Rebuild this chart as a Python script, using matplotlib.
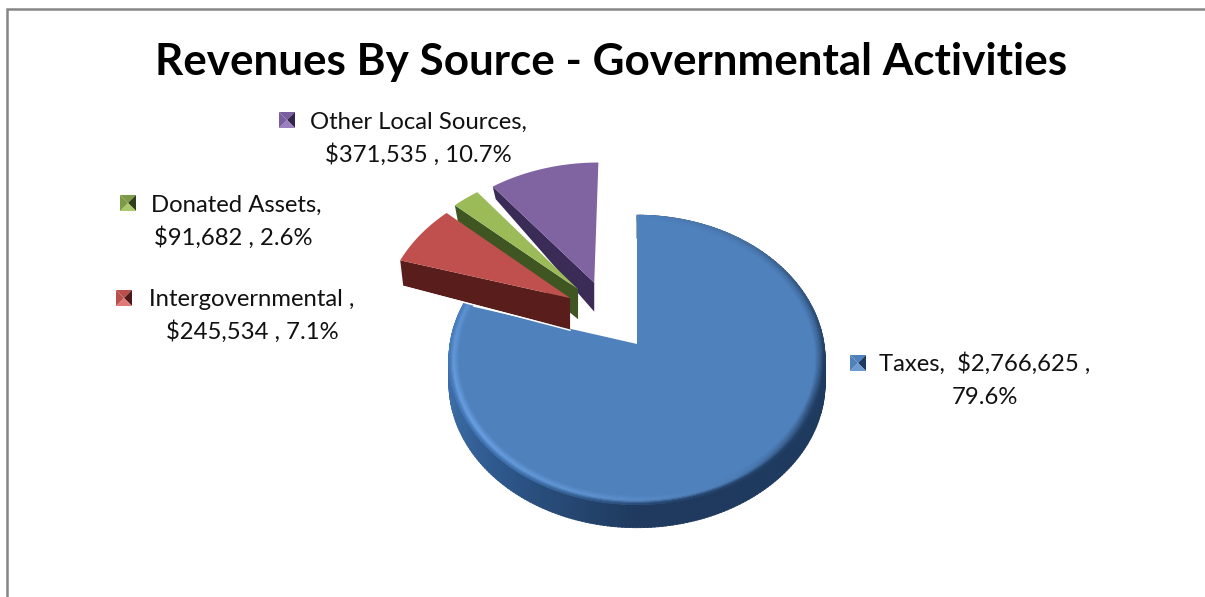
import numpy as np
import matplotlib
matplotlib.use("Agg")
import matplotlib.pyplot as plt
from matplotlib.collections import PolyCollection
from matplotlib.colors import to_rgb

title = "Revenues By Source - Governmental Activities"
sources = ["Taxes", "Intergovernmental", "Donated Assets", "Other Local Sources"]
revenues = [2766625, 245534, 91682, 371535]

face_colors = ["#4f81bd", "#c0504d", "#9bbb59", "#8064a2"]
wall_colors = ["#1f3a5f", "#591e1b", "#3f5623", "#3b2b57"]
key_light = ["#6d9ad0", "#e07a76", "#a9c96c", "#9a80bd"]
key_mid = ["#4f81bd", "#b9504d", "#7d9a48", "#7a5fa0"]
key_dark = ["#1f3a5f", "#4e1a18", "#2e4018", "#32254b"]

# how far each slice is pulled out of the pie, in units of the radius
pull_u = [0.0, -0.371, -0.329, -0.24]
pull_v = [0.0, 0.333, 0.40, 0.45]
SLICE_R = 1.025

# the pie plane seen in perspective
CX, CY = 637, 344
RX, RY, K = 187, 143, 0.11
DEPTH = 23


def project(u, v, drop=0.0):
    s = 1 / (1 + K * v)
    return CX + RX * u * s, CY - RY * v * s + drop


def arc(t0, t1, r=1.0, n=120):
    t = np.radians(np.linspace(t0, t1, n))
    return r * np.sin(t), r * np.cos(t)


def mix(c0, c1, t):
    a, b = np.array(to_rgb(c0)), np.array(to_rgb(c1))
    return a + (b - a) * t


def by_angle(theta, stops, colors):
    rgb = np.array([to_rgb(c) for c in colors])
    return np.array([np.interp(theta, stops, rgb[:, i]) for i in range(3)])


fig = plt.figure(figsize=(12.05, 5.97), dpi=100)
ax = fig.add_axes([0, 0, 1, 1])
ax.set_xlim(0, 1205)
ax.set_ylim(597, 0)
ax.axis("off")

# outer chart frame
ax.plot([7, 7, 1205], [597, 9, 9], color="#868686", lw=1.8, solid_joinstyle="miter")

total = sum(revenues)
shares = [r / total for r in revenues]
edges = np.concatenate([[0], np.cumsum(shares) * 360])

# main slice: side wall, then top face, then the soft bevel along the rim
t0, t1 = edges[0], edges[1]
wall_stops = [0, 90, 120, 180, 225, 255, 290]
wall_cols = ["#1f3a5f", "#1f3a5f", "#1e3a5e", "#1f3a5e", "#2f5a8f", "#3d6da8", "#3d6da8"]
quads, cols = [], []
thetas = np.arange(t0, t1, 1.0)
for a in thetas:
    u, v = arc(a, a + 1.2, n=2)
    x, y = project(u, v)
    xb, yb = project(u, v, DEPTH)
    quads.append(list(zip(x, y)) + list(zip(xb[::-1], yb[::-1])))
    cols.append(by_angle(a, wall_stops, wall_cols))
ax.add_collection(PolyCollection(quads, facecolors=cols, edgecolors=cols, linewidths=0.6, zorder=2))

u, v = arc(t0, t1, n=300)
x, y = project(u, v)
ax.fill(np.r_[CX, x], np.r_[CY, y], color=face_colors[0], lw=0, zorder=3)

rim_stops = [0, 40, 80, 115, 150, 190, 235, 262, 290]
rim_cols = ["#4f81bd", "#4b7ab2", "#3f6a9b", "#2f5078", "#4d7db6", "#5f92d0", "#6ba3e6", "#659bdb", "#5d92d2"]
edge_stops = [0, 40, 100, 170, 215, 290]
edge_cols = ["#4f81bd", "#466f9f", "#1f3a5f", "#23426a", "#3f70ab", "#4a7fc0"]
radii = np.linspace(0.945, 1.0, 10)
quads, cols = [], []
for i in range(len(radii) - 1):
    f = i / (len(radii) - 2)
    for a in thetas:
        uo, vo = arc(a, a + 1.2, radii[i + 1], n=2)
        ui, vi = arc(a, a + 1.2, radii[i], n=2)
        xo, yo = project(uo, vo)
        xi, yi = project(ui, vi)
        quads.append(list(zip(xo, yo)) + list(zip(xi[::-1], yi[::-1])))
        rim = by_angle(a, rim_stops, rim_cols)
        # fade from the face colour to the rim tint, then into the wall
        if f < 0.6:
            c = mix(face_colors[0], rim, f / 0.6)
        else:
            c = rim + (by_angle(a, edge_stops, edge_cols) - rim) * (f - 0.6) / 0.4
        cols.append(c)
ax.add_collection(PolyCollection(quads, facecolors=cols, edgecolors=cols, linewidths=0.5, zorder=4))

# pulled-out slices, back to front so the red one sits on top
for z, i in enumerate([3, 2, 1]):
    t0, t1 = edges[i], edges[i + 1]
    u, v = arc(t0, t1, SLICE_R, n=60)
    u, v = u + pull_u[i], v + pull_v[i]
    ax_, ay_ = project(pull_u[i], pull_v[i])
    ox, oy = project(u[0], v[0])
    # the wall under the slice thins out toward the back
    d_apex = 38.2 - 20.5 * pull_v[i]
    d_out = 38.2 - 20.5 * v[0]
    zo = 6 + z
    ax.fill([ax_, ox, ox + 3, ax_], [ay_, oy, oy + d_out, ay_ + d_apex],
            facecolor=wall_colors[i], lw=0, zorder=zo)
    if i == 1:
        # thin light gap where the red wall crosses the main slice
        ax.plot([ox + 3, ax_], [oy + d_out + 0.8, ay_ + d_apex + 0.8], color="white", lw=1.0, zorder=zo)
    x, y = project(u, v)
    ax.fill(np.r_[ax_, x], np.r_[ay_, y], color=face_colors[i], lw=0, zorder=zo + 0.5)

# legend keys, each a small square split into four triangles
key_pos = [(858, 363), (124, 298), (128, 203), (287, 120)]
for i, (kx, ky) in enumerate(key_pos):
    h = 8
    corners = [(kx - h, ky - h), (kx + h, ky - h), (kx + h, ky + h), (kx - h, ky + h)]
    shade = [key_mid[i], key_dark[i], key_light[i], key_mid[i]]
    for j in range(4):
        ax.fill([corners[j][0], corners[(j + 1) % 4][0], kx],
                [corners[j][1], corners[(j + 1) % 4][1], ky],
                color=shade[j], lw=0, zorder=9)


def money(i):
    return f"${revenues[i]:,} , {shares[i] * 100:.1f}%"


FONT = "Lato"
FS = 17.2
txt = dict(family=FONT, fontsize=FS, color="#111111", ha="center", va="center", zorder=10)

ax.text(611, 62, title, family=FONT, fontsize=31.7, fontweight="bold", color="black",
        ha="center", va="center")
ax.text(985, 364, f"{sources[0]},  ${revenues[0]:,} ,", **txt)
ax.text(985, 397, f"{shares[0] * 100:.1f}%", **txt)
ax.text(252, 299, f"{sources[1]} ,", **txt)
ax.text(252, 332, money(1), **txt)
ax.text(236, 205, f"{sources[2]},", **txt)
ax.text(233, 238, money(2), **txt)
ax.text(418, 122, f"{sources[3]},", **txt)
ax.text(418, 155, money(3), **txt)

fig.savefig("out.png", dpi=100, facecolor="white")
